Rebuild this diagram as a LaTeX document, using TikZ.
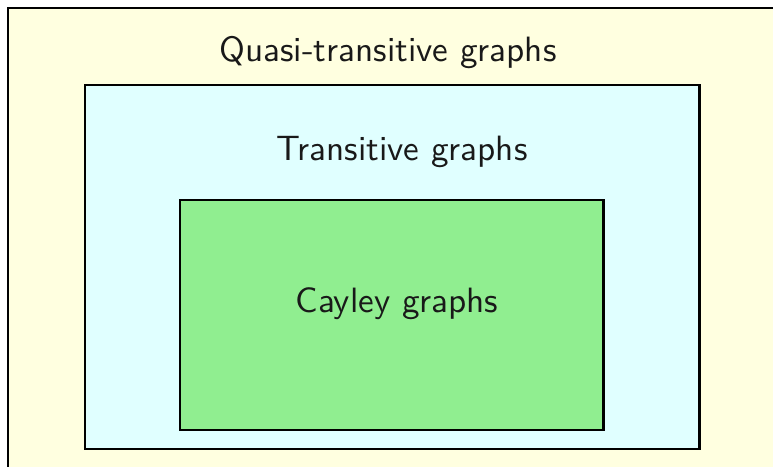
\documentclass[tikz,border=0pt]{standalone}
\usepackage{xcolor}
\definecolor{outerfill}{HTML}{FFFFE0}
\definecolor{midfill}{HTML}{E0FFFF}
\definecolor{innerfill}{HTML}{90EE90}
\begin{document}
\begin{tikzpicture}[x=0.01cm, y=-0.01cm,
    every node/.style={font=\sffamily\fontsize{10}{12}\selectfont, text=black!90},
    setbox/.style={draw=black, line width=0.85pt}]
  \useasboundingbox (0,0) rectangle (773,467);
  \clip (0,0) rectangle (773,467);
  % nested classes of graphs
  \draw[setbox, fill=outerfill] (8,8) rectangle (800,500);
  \draw[setbox, fill=midfill] (85,85) rectangle (699,449);
  \draw[setbox, fill=innerfill] (180,200) rectangle (603,430);
  \node (quasi) at (388,53) {Quasi-transitive graphs};
  \node (trans) at (402,152) {Transitive graphs};
  \node (cayley) at (397,304) {Cayley graphs};
\end{tikzpicture}
\end{document}
